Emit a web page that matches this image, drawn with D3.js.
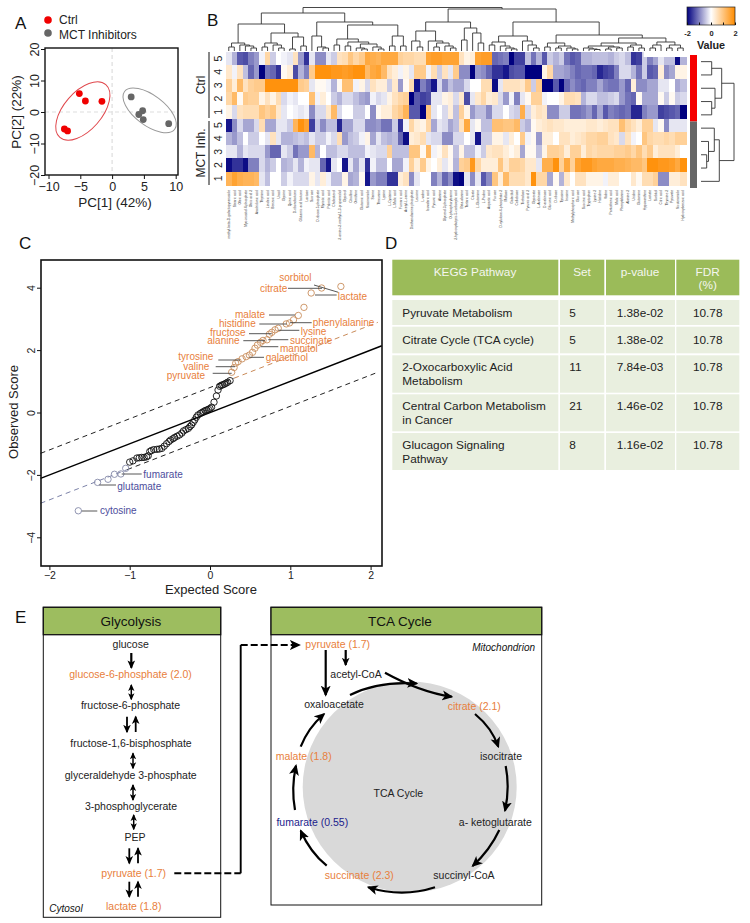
<!DOCTYPE html>
<html>
<head>
<meta charset="utf-8">
<script src="https://cdn.jsdelivr.net/npm/d3@7"></script>
<style>
html, body { margin: 0; padding: 0; background: #fff; }
svg { display: block; }
text { font-family: "Liberation Sans", Arial, sans-serif; }
</style>
</head>
<body>
<script>
// ---- panel A: PCA scores
var ctrlPcX = [-5.15, -4.2, -1.6, -7.5, -7.0];
var ctrlPcY = [5.84, 3.5, 3.4, -5.4, -6.0];
var mctPcX = [3.0, 4.8, 4.2, 4.9, 8.9];
var mctPcY = [4.8, 0.4, -0.8, -2.4, -3.7];

// ---- panel B: heatmap, one array per sample
var rowNames = ["5", "4", "3", "2", "1", "5", "4", "3", "2", "1"];
var ctrl5 = [-.2,-.6,-1.3,-1.4,-1.0,-.8,-.1,.7,-.4,0, -.1,-.2,.5,-.8,-1.6,-.2,-.9,-.9,-.2,-.4,
  .5,.6,1.0,.7,.9,1.5,1.4,1.3,1.5,1.5, 1.5,.8,.7,.7,.6,.6,1.6,1.7,1.7,1.6, 1.6,1.6,
  .5,.2,.3,1.6,1.7,1.7,-1.2,-1.1,-1.0,-2, -1.5,-1.5,-.5,-1.1,-.6,-1.3,-.4,-.6,-.4,-1.1,
  -1.3,-1.2,-.6,-.6,-.5,-.5,-.5,-.6,-.4,-.3, -.5,-1.6,-1.5,-.4,-1,-.7,-.2,-.5,-.5,-1.9, -.6];
var ctrl4 = [.4,-.1,.5,-.5,-1.2,-.8,-2,-1.1,-1.2,-1.6, .1,.3,-1.4,-.6,-1.0,.9,1.9,1.9,1.9,1.8,
  1.8,1.7,1.8,1.9,1.9,1.2,1.5,1.6,1.2,.5, .3,-.1,.2,-.2,.9,.9,-.1,.6,-.4,.5, -.2,.9,
  -.9,-.9,-2,-.8,-.9,-1.2,-1.6,-1.6,-1.8,-1.4, -1.3,-1.3,-2,-2,-2,.2,.7,-.7,-.7,-.8,
  -1.0,-1.2,-1.1,-1.1,-1.2,-1.7,-1.5,-1.4,-1.0,-.3, -.3,-.6,-1.1,-.4,-1.3,-1.2,.3,-.9,-.7,.2, .2];
var ctrl3 = [.8,.3,1.2,.5,.8,.9,.9,1.9,1.9,1.9, 1.9,1.9,1.9,.9,.8,-.2,.1,.1,-.1,-.6,
  .1,1.1,1.1,-.1,.2,-.3,.5,.3,.3,-.4, .4,-.8,.1,.6,-1.8,-1.0,-1.3,-1.8,-.3,-.9, -.5,-.7,
  -.7,-.3,0,0,.6,.6,-1.9,-.2,.5,.5, .5,.4,.9,-.4,.9,-2,-2,-1.3,-2,-1.2,
  -.9,-1.1,-1.2,-1.0,-1.0,-.7,-1.0,-1.1,-1.1,-.8, -1.2,.3,-.9,-.9,-.7,-.7,-.2,-.2,0,-.7, -.5];
var ctrl2 = [.7,1.2,.1,.9,.8,.8,.2,.5,.2,.6, -.3,-.1,-.2,0,0,1.1,-.1,.3,0,-.4,
  -.6,-.3,-.3,-.5,-.7,-.8,-.1,-.3,-.2,.2, .5,.7,.8,-2,-1.3,-1.5,-1.4,-.2,-.2,.2, .3,-.3,
  .4,-1.4,-.2,.4,.7,.3,.4,-.3,-.8,-.1, -1.0,-.2,.1,.8,.8,-.1,0,0,.2,.6,
  .6,.5,-.6,-.3,-.3,-.5,-.5,-.4,-.3,-.8, -1.1,-1.2,.1,-.7,-.7,-.7,.1,-.4,.1,-.4, -.3];
var ctrl1 = [.2,-.3,.5,.6,.6,.6,1.0,.8,1.0,.4, -.2,0,-.1,-.2,-.1,-.9,-.3,-.3,.4,1.2,
  -.3,0,0,-.4,-.4,0,-.9,.1,.3,.3, .7,.9,1.3,-1.3,-1.3,-2,1.0,-.2,0,-.3, .3,-.5,
  .8,.2,-.8,-.5,-.5,-.9,-.3,-.3,0,-.3, -.4,1.4,-.3,.3,.5,.4,-.9,-.9,-.4,-.4,
  -1.1,-1.1,-1.0,-.8,-1.2,-.7,-1.3,-1.0,-1.1,-1.2, -1.1,-1.7,-1.7,-1.0,-.8,-.8,-1.5,-1.4,-1.3,-1.2, -2];
var mct5 = [-1.8,-.9,-.3,-.7,-.7,-.3,.6,-.7,-.7,-.2, -.2,-.4,1.3,1.9,1.6,-1.5,-.4,-.9,-.5,-.5,
  -1.7,-.7,-.7,-.3,-.3,-.9,-.9,-.8,-1.1,-1.1, -.4,-1.6,-.1,.7,.3,.2,.7,-.7,-.2,-.3, -.7,-.5,
  .5,1.5,-.2,.1,-.5,-.5,1.1,1.1,1.0,1.0, 1.2,-.4,-.6,.1,.3,.4,.5,.4,.4,.3,
  .3,.3,.3,.4,.4,.3,.4,.5,.5,1.1, .7,.5,.3,.8,.8,-.2,.1,-.9,-.2,-.2, -.2];
var mct4 = [-.6,-.8,-.5,0,-.4,-.4,0,-.2,.5,-.2, -.6,-.6,-.5,-.4,-.5,-.2,-.4,-.4,-.1,-.3,
  .6,-.8,-.5,-.4,-.1,.2,-.7,-.2,-.5,-.6, -.5,-1.2,-1.9,.3,.4,.6,-.2,-.3,-.3,-.9, -.9,-.3,
  -.3,0,-.2,-1.8,-.4,-.4,.2,.2,-.2,.3, 0,.9,-.1,.1,-.8,.3,.3,0,.5,.5,
  .3,.4,.5,.7,.7,.8,.8,.5,.4,-.3, .5,-.1,0,1.0,.7,.6,.6,.7,.6,.8, .8];
var mct3 = [-.2,-.2,-.6,-.2,-.3,-.3,-.3,-.8,-1.2,-1.2, -.2,-.4,-1.1,-.8,-.8,1.2,-.6,0,-.5,-.5,
  -.3,-.3,-.5,-.5,-.5,-.1,-.2,-.3,-.3,.8, -.5,-.5,-.5,1.0,1.0,.1,1.2,-.1,.1,.5, .1,-.5,
  .2,-.5,-.5,-.1,-.4,.4,.5,.5,.3,.1, .3,-.7,.1,.1,-.5,.2,.8,.8,.7,.3,
  .8,.8,.3,.7,.6,.7,.7,.7,.8,.8, .9,.7,1.0,.6,.9,.3,.5,.5,.5,.3, 0];
var mct2 = [-1.9,-1.6,-1.6,-1.9,-1.0,-1.0,-.3,-.6,-.4,0, -.6,-.5,-.2,-.6,-.1,-.2,-.2,-1.2,-1.8,-.2,
  0,-1.8,-.2,-.7,-.2,-1.6,-.1,-.5,-.5,0, -.7,-.7,-.1,.8,.3,.9,.2,0,.3,-.2, .1,-.6,
  .8,.9,1.8,.7,.3,.3,.3,1.0,.4,.8, .8,.7,.4,.4,-.2,1.4,1.4,1.9,.8,1.5,
  .8,1.6,1.8,1.8,1.6,1.5,1.5,1.5,1.4,1.4, 1.3,1.2,1.2,1.0,1.9,1.9,1.8,1.8,1.7,1.5, 1.9];
var mct1 = [1.3,1.6,1.4,1.3,1.3,1.2,-.2,-.5,0,0, -.4,-.1,-.3,-.3,-.3,.2,-.2,.3,-.1,-.5,
  -.5,.2,-.7,-.6,.1,-1.8,-.8,-1.0,-1.0,-1.6, -1.6,.3,.5,-.9,-.2,0,0,-1,-.6,-1.2, -.9,-1.9,
  -2,-.2,-.9,-.2,-1.3,-.9,1.0,.3,1.2,.6, .6,.6,.4,1.9,.7,.7,-.7,.1,-.6,.4,
  0,.5,.5,.2,.2,.2,-.1,.3,.3,0, 0,.4,.1,.6,.6,.8,-.9,-.9,.3,.3, .5];
var heatRows = [ctrl5, ctrl4, ctrl3, ctrl2, ctrl1, mct5, mct4, mct3, mct2, mct1];

var metabolites = ["methyl-beta-D-galactopyranoside","Stearic acid","Oleic acid","Myo-inositol 4-phosphate","Oleic acid 2","Arachidonic acid",
  "Thymine","Linoleic acid","Benzoic acid","Uracil","Glycine","Quinic acid","D-ribonolactone","Glutamic acid lactone","Lactose","Sucrose",
  "D-ribose 5-phosphate","Myristic acid","Palmitic acid","Cholesterol","2-amino-2-methyl-1,3-propanediol","Glycerol","Citrulline","Ornithine",
  "Glutamic acid","Niacinamide","Serine","Threonine","Lysine","L-Cysteine","L-Malic acid","Fumaric acid","Acetyl-L-serine",
  "Diethanolamine phosphate","Leucine","L-valine","Isovaleric acid","Pyruvic acid","Alanine","Glycerol 3-phosphate","O-phosphorylserine",
  "2-hydroxybutyric-5-carboxylic acid","Beta-alanine","Tartaric acid","Citrate","L-Glutamine","L-Proline","Aspartic acid","Fucose",
  "D-xylulose-6-phosphate 2","Maltose","Galactitol","Cellobiose","Trehalose","Pyruvic acid 2","Glycerate","L-Arabinose","D-arabinose",
  "Gluconic acid","D-ribose","Tyrosine","Inosine","Methylphosphoric acid","Glucose","Succinic acid","Tryptophan","Lysine 2","Histidine",
  "Valine","Pantothenic acid","Malic acid","Phenylalanine","Alanine 2","Uridine","Glutamine","Hypoxanthine","Lactate","Sorbitol",
  "Citric acid","Thymine 2","Pyruvate","Nicotinamide","Hydroxybenzoic acid"];

// dendrograms: [height, left, right], 0 is a leaf
var colTree = [43.5,
  [38,
    [27,
      [8, [4,0,0], [6,0,[5,0,[3,0,0]]]],
      [18, [8,[4,0,0],[6,0,[3,0,0]]], [14,[2,0,0],[5,0,0]]]],
    [29,
      [15, 0, [4,0,[3,0,0]]],
      [26,
        [12, [6,0,0], [9,[5,0,0],[7,[3,0,[2,0,0]],[4,0,[2,0,0]]]]],
        [15, [5,0,0], [5,0,0]]]]],
  [42,
    [29,
      [20, [10,0,[4,0,0]], [10,0,[8,[4,0,0],[5,0,[3,0,0]]]]],
      [23, [11,0,0], [18,0,[8,0,0]]]],
    [29,
      [15, [9,[6,0,0],[5,0,[3,0,[2,0,0]]]], [10,0,[6,0,[3,0,0]]]],
      [16,
        [8, [4,0,0], [5,[3,0,0],[3,0,[2,0,0]]]],
        [13,
          [8,
            [5, [3,0,[2,0,[1.5,0,0]]], [4,[2,0,0],[3,0,0]]],
            [6, [4,0,0], [3,0,0]]],
          [9, [6,[3,0,0],0], [6,[3,0,0],[3,0,0]]]]]]]];
var rowTree = [33,
  [20.7, [10.7,0,0], [14,0,[10.7,0,0]]],
  [18.3, [13.3,0,[7.5,0,[5.7,0,0]]], 0]];

// ---- panel C: SAM plot
var samExpected = [-1.64,-1.40,-1.27,-1.19,-1.11,-1.05,
  -1.0,-.96,-.91,-.88,-.85,-.82,-.79,-.77,-.75,-.73,-.70,-.66,-.63,-.60,-.57,-.54,-.51,-.49,-.46,-.44,-.41,-.38,-.35,-.33,-.30,-.27,-.25,-.23,-.21,-.19,-.17,-.15,-.12,-.10,-.08,-.06,-.04,-.02,0,.02,.05,.08,.10,.12,.14,.16,.18,.20,.22,.25,
  .27,.30,.32,.35,.40,.45,.49,.53,.56,.59,.63,.66,.71,.74,.77,.81,.85,.95,.99,1.04,1.10,1.17,1.26,1.39,1.63];
var samObserved = [-3.15,-2.24,-2.14,-1.98,-1.97,-1.79,
  -1.59,-1.55,-1.46,-1.45,-1.44,-1.44,-1.42,-1.39,-1.25,-1.22,-1.19,-1.18,-1.17,-1.15,-1.08,-1.0,-.93,-.88,-.84,-.80,-.76,-.72,-.66,-.59,-.55,-.51,-.45,-.40,-.32,-.24,-.15,-.08,-.03,0,.03,.06,.08,.10,.13,.17,.33,.53,.72,.84,.87,.89,.91,.94,.97,1.02,
  1.29,1.44,1.58,1.63,1.72,1.79,1.84,1.93,2.06,2.16,2.25,2.31,2.33,2.51,2.57,2.65,2.70,2.84,2.87,2.97,3.11,3.37,3.83,3.99,4.04];
var samDelta = 0.8;

// name, left of text, centre of text, leader start, leader end, leader y
var upLabels = [
  ["sorbitol",279.3,277,314,338.3,285,292.3],
  ["citrate",260,288.7,288,322,288.3,288.3],
  ["lactate",337.7,296.3,315,336.7,295,295],
  ["malate",235,314.7,269,295,315,315],
  ["histidine",219,323.7,259.3,286.7,324,324],
  ["phenylalanine",312.7,322,290,311.7,322.7,322.7],
  ["fructose",210,332.3,249,271.7,333.7,333.7],
  ["lysine",300.7,331,278.3,299.3,330.3,330.3],
  ["alanine",207.3,340.7,243.3,265,340.7,340.7],
  ["succinate",290,340.3,268.3,288.3,339.7,339.7],
  ["mannitol",280,348.7,260.7,278.3,346.7,346.7],
  ["galactinol",265.7,357.7,249.3,264,357.3,357.3],
  ["tyrosine",178.3,356.7,218.3,240,360,360],
  ["valine",183.3,366.3,215.7,235,366.7,366.7],
  ["pyruvate",166.7,375.3,212.7,231.7,373.3,373.3]];
var downLabels = [
  ["fumarate",143.3,474.7,121.7,141.7,474,474],
  ["glutamate",117.3,486.3,99.3,116,485,485],
  ["cytosine",100,510.7,81.7,97.3,511,511]];

// ---- panel D: table
var tableHeader = [["KEGG Pathway"], ["Set"], ["p-value"], ["FDR", "(%)"]];
var pathwayNames = [["Pyruvate Metabolism"], ["Citrate Cycle (TCA cycle)"], ["2-Oxocarboxylic Acid", "Metabolism"],
  ["Central Carbon Metabolism", "in Cancer"], ["Glucagon Signaling", "Pathway"]];
var pathwaySet = ["5", "5", "11", "21", "8"];
var pathwayP = ["1.38e-02", "1.38e-02", "7.84e-03", "1.46e-02", "1.16e-02"];
var pathwayFdr = ["10.78", "10.78", "10.78", "10.78", "10.78"];

// ---- panel E: pathways
var orangeText = "#e8803c", blueText = "#4d4d9c", navyText = "#1c1c8c";
var glycolysisSteps = [
  ["glucose",130.7,644.3,"#222"],
  ["glucose-6-phosphate (2.0)",130.5,674.3,orangeText],
  ["fructose-6-phosphate",130.5,705.7,"#222"],
  ["fructose-1,6-bisphosphate",131,743.3,"#222"],
  ["glyceraldehyde 3-phosphate",130.7,775.3,"#222"],
  ["3-phosphoglycerate",131,806,"#222"],
  ["PEP",135,837,"#222"],
  ["pyruvate (1.7)",133.7,873.3,orangeText],
  ["lactate (1.8)",133.7,906.7,orangeText]];
var tcaSteps = [
  ["pyruvate (1.7)",337.7,644.3,orangeText],
  ["acetyl-CoA",356,674,"#222"],
  ["oxaloacetate",334,704.3,"#222"],
  ["citrate (2.1)",474.3,706,orangeText],
  ["isocitrate",501,756.3,"#222"],
  ["a- ketoglutarate",495.3,822.3,"#222"],
  ["succinyl-CoA",464,875.7,"#222"],
  ["succinate (2.3)",359.3,875.7,orangeText],
  ["fumarate (0.55)",312.3,822.3,navyText],
  ["malate (1.8)",303.7,756.7,orangeText],
  ["TCA Cycle",398.3,793.3,"#222"]];

var width = 750, height = 923;
var svg = d3.select("body").append("svg")
    .attr("width", width)
    .attr("height", height)
    .attr("viewBox", "0 0 " + width + " " + height);

var defs = svg.append("defs");
function headMarker(id, size) {
    defs.append("marker")
        .attr("id", id)
        .attr("viewBox", "0 0 10 10")
        .attr("refX", 8.5)
        .attr("refY", 5)
        .attr("markerWidth", size)
        .attr("markerHeight", size)
        .attr("markerUnits", "userSpaceOnUse")
        .attr("orient", "auto-start-reverse")
        .append("path")
        .attr("d", "M0,0.5 L10,5 L0,9.5 L2.5,5 z")
        .attr("fill", "#000");
}
headMarker("head", 11);
headMarker("headMid", 8.5);
headMarker("headSmall", 7);

defs.append("filter").attr("id", "soft")
    .append("feGaussianBlur").attr("stdDeviation", 0.45);

function panelLetter(t, x, y) {
    svg.append("text").attr("x", x).attr("y", y).attr("font-size", 17).attr("fill", "#111").text(t);
}
panelLetter("A", 15, 29);
panelLetter("B", 207, 26);
panelLetter("C", 19, 249);
panelLetter("D", 385, 249);
panelLetter("E", 15, 623);

function styleAxis(g, size) {
    g.select(".domain").remove();
    g.selectAll("text")
        .style("font-family", '"Liberation Sans", Arial, sans-serif')
        .style("font-size", size + "px")
        .attr("fill", "#222");
    g.selectAll("line").attr("stroke", "#111").attr("stroke-width", 1);
}

function rotateTicks(g, offset) {
    g.selectAll("text")
        .attr("transform", "rotate(-90)")
        .attr("x", 0)
        .attr("y", -offset)
        .attr("dy", 0)
        .style("text-anchor", "middle");
}

// ---- A
var ax = d3.scaleLinear().domain([-10, 10]).range([48.5, 175.7]);
var ay = d3.scaleLinear().domain([-20, 20]).range([175, 49]);
var pa = svg.append("g");

pa.append("line").attr("x1", ax(0)).attr("x2", ax(0)).attr("y1", 48).attr("y2", 175)
    .attr("stroke", "#ddd").attr("stroke-width", 1.2).attr("stroke-dasharray", "4,3");
pa.append("line").attr("x1", 45).attr("x2", 178).attr("y1", ay(0)).attr("y2", ay(0))
    .attr("stroke", "#ddd").attr("stroke-width", 1.2).attr("stroke-dasharray", "4,3");

pa.append("ellipse")
    .attr("rx", 35).attr("ry", 19)
    .attr("transform", "translate(" + ax(-4.6) + "," + ay(0.3) + ") rotate(-49)")
    .attr("fill", "none").attr("stroke", "#e0474c").attr("stroke-width", 1);
pa.append("ellipse")
    .attr("rx", 31.4).attr("ry", 15)
    .attr("transform", "translate(" + ax(5.9) + "," + ay(0.5) + ") rotate(37)")
    .attr("fill", "none").attr("stroke", "#999").attr("stroke-width", 1);

pa.selectAll("circle.ctrl").data(ctrlPcX).enter().append("circle")
    .attr("class", "ctrl")
    .attr("cx", function (d) { return ax(d); })
    .attr("cy", function (d, i) { return ay(ctrlPcY[i]); })
    .attr("r", 3.4)
    .attr("fill", "#f00000");
pa.selectAll("circle.mct").data(mctPcX).enter().append("circle")
    .attr("class", "mct")
    .attr("cx", function (d) { return ax(d); })
    .attr("cy", function (d, i) { return ay(mctPcY[i]); })
    .attr("r", 3.4)
    .attr("fill", "#666");

pa.append("rect").attr("x", 45).attr("y", 48).attr("width", 133).attr("height", 127)
    .attr("fill", "none").attr("stroke", "#111").attr("stroke-width", 1.4);

pa.append("g").attr("transform", "translate(0,175)")
    .call(d3.axisBottom(ax).tickValues([-10, -5, 0, 5, 10]).tickSize(4).tickPadding(3))
    .call(styleAxis, 12.5);
pa.append("g").attr("transform", "translate(45,0)")
    .call(d3.axisLeft(ay).tickValues([-20, -10, 0, 10, 20]).tickSize(4))
    .call(styleAxis, 12.5)
    .call(rotateTicks, 6);

pa.append("text").attr("x", 115).attr("y", 207).attr("text-anchor", "middle").attr("font-size", 13.5).attr("fill", "#222").text("PC[1] (42%)");
pa.append("text").attr("transform", "translate(21,112) rotate(-90)").attr("text-anchor", "middle").attr("font-size", 13.5).attr("fill", "#222").text("PC[2] (22%)");

pa.append("circle").attr("cx", 48).attr("cy", 20).attr("r", 3.8).attr("fill", "#f00000");
pa.append("circle").attr("cx", 48).attr("cy", 33).attr("r", 3.8).attr("fill", "#666");
pa.append("text").attr("x", 59).attr("y", 24).attr("font-size", 12).attr("fill", "#222").text("Ctrl");
pa.append("text").attr("x", 59).attr("y", 39).attr("font-size", 12).attr("fill", "#222").text("MCT Inhibitors");

// ---- B
var hx = d3.scaleBand().domain(d3.range(metabolites.length)).range([226, 686]);
var hy = d3.scaleBand().domain(d3.range(heatRows.length)).range([52, 185]);
var sideY = d3.scaleBand().domain(d3.range(heatRows.length)).range([55, 188]);
var heatColor = d3.scaleLinear().domain([-2, 0, 2]).range(["#00007f", "#ffffff", "#ff8c00"]);
var pb = svg.append("g");

var heatCells = [];
heatRows.forEach(function (row, r) {
    row.forEach(function (v, c) {
        heatCells.push({r: r, c: c, v: v});
    });
});
pb.append("g").attr("shape-rendering", "crispEdges").attr("filter", "url(#soft)")
    .selectAll("rect").data(heatCells).enter().append("rect")
    .attr("x", function (d) { return hx(d.c); })
    .attr("y", function (d) { return hy(d.r); })
    .attr("width", hx.bandwidth() + 0.5)
    .attr("height", hy.bandwidth() + 0.5)
    .attr("fill", function (d) { return heatColor(d.v); });

// a strip of the first row is masked on the right of the figure
pb.append("rect").attr("x", hx(75) + 2).attr("y", 50).attr("width", 44).attr("height", 7).attr("fill", "#fff");

function dendrogram(tree, posScale, heightScale, vertical, g) {
    var root = d3.hierarchy(tree, function (d) { return d === 0 ? null : d.slice(1); });
    var leafPos = 0;
    root.eachAfter(function (n) {
        if (!n.children) {
            n.pos = leafPos++;
            n.h = 0;
        } else {
            n.pos = (n.children[0].pos + n.children[1].pos) / 2;
            n.h = n.data[0];
        }
    });
    var bw = posScale.bandwidth();
    function p(n) { return posScale(0) + (posScale(1) - posScale(0)) * n.pos + bw / 2; }
    g.selectAll("path").data(root.descendants().filter(function (n) { return n.children; }))
        .enter().append("path")
        .attr("fill", "none")
        .attr("stroke", "#333")
        .attr("stroke-width", 0.9)
        .attr("d", function (n) {
            var a = n.children[0], b = n.children[1], pts;
            pts = [[p(a), heightScale(a.h)], [p(a), heightScale(n.h)], [p(b), heightScale(n.h)], [p(b), heightScale(b.h)]];
            if (!vertical) pts = pts.map(function (q) { return [q[1], q[0]]; });
            return d3.line()(pts);
        });
}
dendrogram(colTree, hx, d3.scaleLinear().domain([0, 44]).range([51, 7]), true, pb.append("g"));
dendrogram(rowTree, sideY, d3.scaleLinear().domain([0, 33]).range([701, 734]), false, pb.append("g"));

// group colour bar
var groupBars = [[0, 5, "#f50000"], [5, 10, "#666"]];
pb.selectAll("rect.side").data(groupBars).enter().append("rect")
    .attr("class", "side")
    .attr("x", 690)
    .attr("width", 7)
    .attr("y", function (d) { return sideY(d[0]); })
    .attr("height", function (d) { return sideY.bandwidth() * (d[1] - d[0]); })
    .attr("fill", function (d) { return d[2]; });

// row labels
pb.selectAll("text.rowname").data(rowNames).enter().append("text")
    .attr("class", "rowname")
    .attr("transform", function (d, i) { return "translate(222," + (hy(i) + hy.bandwidth() / 2) + ") rotate(-90)"; })
    .attr("text-anchor", "middle")
    .attr("font-size", 10.5)
    .attr("fill", "#222")
    .text(function (d) { return d; });
pb.append("line").attr("x1", 209).attr("x2", 209).attr("y1", 52).attr("y2", 118).attr("stroke", "#111").attr("stroke-width", 1);
pb.append("line").attr("x1", 209).attr("x2", 209).attr("y1", 121).attr("y2", 185).attr("stroke", "#111").attr("stroke-width", 1);
pb.append("text").attr("transform", "translate(205,85) rotate(-90)").attr("text-anchor", "middle").attr("font-size", 12).attr("fill", "#222").text("Ctrl");
pb.append("text").attr("transform", "translate(205,153) rotate(-90)").attr("text-anchor", "middle").attr("font-size", 12).attr("fill", "#222").text("MCT Inh.");

// metabolite labels
pb.selectAll("text.metab").data(metabolites).enter().append("text")
    .attr("class", "metab")
    .attr("transform", function (d, i) { return "translate(" + (hx(i) + hx.bandwidth() / 2 + 1.2) + ",190) rotate(-90)"; })
    .attr("text-anchor", "end")
    .attr("font-size", 3.3)
    .attr("fill", "#333")
    .text(function (d) { return d; });

// colour key
var keyX = d3.scaleLinear().domain([-2, 2]).range([687, 735]);
var keyGrad = defs.append("linearGradient").attr("id", "keyGrad");
[-2, 0, 2].forEach(function (v) {
    keyGrad.append("stop").attr("offset", (v + 2) / 4).attr("stop-color", heatColor(v));
});
pb.append("rect").attr("x", 687).attr("y", 7).attr("width", 48).attr("height", 18)
    .attr("fill", "url(#keyGrad)").attr("stroke", "#222").attr("stroke-width", 0.7);
pb.append("g").attr("transform", "translate(0,25)")
    .call(d3.axisBottom(keyX).tickValues([-2, -1, 0, 1, 2]).tickSize(-2.5).tickPadding(6)
        .tickFormat(function (d) { return d % 2 === 0 ? d3.format("d")(d).replace("\u2212", "-") : ""; }))
    .call(styleAxis, 7.5)
    .call(function (g) { g.selectAll("text").attr("font-weight", "bold"); });
pb.append("text").attr("x", 711).attr("y", 49).attr("text-anchor", "middle").attr("font-size", 10.8).attr("font-weight", "bold").attr("fill", "#222").text("Value");

// ---- C
var cx = d3.scaleLinear().domain([-2, 2]).range([49.4, 370.6]);
var cy = d3.scaleLinear().domain([-4, 4]).range([537.3, 287.7]);
var pc = svg.append("g");

function refLine(from, to, delta, color, dash, w) {
    pc.append("line")
        .attr("x1", cx(from)).attr("y1", cy(from + delta))
        .attr("x2", cx(to)).attr("y2", cy(to + delta))
        .attr("stroke", color).attr("stroke-width", w)
        .attr("stroke-dasharray", dash);
}
refLine(-2.11, 2.14, 0, "#000", null, 1.4);
refLine(-2.11, 0.3, samDelta, "#222", "5,4", 1);
refLine(0.3, 2.09, samDelta, "#c98a58", "5,4", 1);
refLine(-2.11, -1.03, -samDelta, "#7c82a8", "5,4", 1);
refLine(-1.03, 2.09, -samDelta, "#222", "5,4", 1);

function samColor(i) {
    var diff = samObserved[i] - samExpected[i];
    if (diff > samDelta) return "#c98f5e";
    if (diff < -0.7) return "#8489a8";
    return "#111";
}
pc.selectAll("circle").data(samExpected).enter().append("circle")
    .attr("cx", function (d) { return cx(d); })
    .attr("cy", function (d, i) { return cy(samObserved[i]); })
    .attr("r", 3.2)
    .attr("fill", "none")
    .attr("stroke", function (d, i) { return samColor(i); })
    .attr("stroke-width", 0.9);

function samLabels(rows, color) {
    var g = pc.append("g");
    g.selectAll("line").data(rows).enter().append("line")
        .attr("x1", function (d) { return d[3]; })
        .attr("x2", function (d) { return d[4]; })
        .attr("y1", function (d) { return d[5]; })
        .attr("y2", function (d) { return d[6]; })
        .attr("stroke", "#444")
        .attr("stroke-width", 0.9);
    g.selectAll("text").data(rows).enter().append("text")
        .attr("x", function (d) { return d[1]; })
        .attr("y", function (d) { return d[2]; })
        .attr("dy", "0.35em")
        .attr("font-size", 10)
        .attr("fill", color)
        .text(function (d) { return d[0]; });
}
samLabels(upLabels, orangeText);
samLabels(downLabels, blueText);

pc.append("rect").attr("x", 41).attr("y", 260).attr("width", 341).attr("height", 306)
    .attr("fill", "none").attr("stroke", "#111").attr("stroke-width", 1.6);
pc.append("g").attr("transform", "translate(0,566)")
    .call(d3.axisBottom(cx).tickValues([-2, -1, 0, 1, 2]).tickSize(4).tickPadding(2).tickFormat(d3.format("d")))
    .call(styleAxis, 10.5);
pc.append("g").attr("transform", "translate(41,0)")
    .call(d3.axisLeft(cy).tickValues([-4, -2, 0, 2, 4]).tickSize(4).tickFormat(d3.format("d")))
    .call(styleAxis, 10.5)
    .call(rotateTicks, 6);
pc.append("text").attr("x", 211).attr("y", 594).attr("text-anchor", "middle").attr("font-size", 13).attr("fill", "#222").text("Expected Score");
pc.append("text").attr("transform", "translate(18,412) rotate(-90)").attr("text-anchor", "middle").attr("font-size", 13).attr("fill", "#222").text("Observed Score");

// ---- D
var colEdges = [[392.3, 558.3], [560, 604.3], [606, 675], [676.3, 739.3]];
var rowEdges = [[259.7, 295.3], [300, 325], [326.7, 353.3], [355.3, 392.7], [394.3, 431.3], [433, 470]];
var bodyColumns = [pathwayNames, pathwaySet, pathwayP, pathwayFdr];
var pd = svg.append("g");

var tableCells = [];
rowEdges.forEach(function (re, r) {
    colEdges.forEach(function (ce, c) {
        var lines = r === 0 ? tableHeader[c] : bodyColumns[c][r - 1];
        if (typeof lines === "string") lines = [lines];
        tableCells.push({r: r, c: c, x0: ce[0], x1: ce[1], y0: re[0], y1: re[1], lines: lines});
    });
});
pd.selectAll("rect").data(tableCells).enter().append("rect")
    .attr("x", function (d) { return d.x0; })
    .attr("y", function (d) { return d.y0; })
    .attr("width", function (d) { return d.x1 - d.x0; })
    .attr("height", function (d) { return d.y1 - d.y0; })
    .attr("fill", function (d) { return d.r === 0 ? "#9bbb59" : "#e9efdf"; });

var bodyAlignX = [402.3, 569.3, 640, 707.7];
var headAlignX = [475, 582, 640, 707.7];
pd.selectAll("text").data(tableCells).enter().append("text")
    .attr("font-size", 11.8)
    .attr("fill", function (d) { return d.r === 0 ? "#f4f6ee" : "#222"; })
    .attr("text-anchor", function (d) { return d.r > 0 && d.c < 2 ? "start" : "middle"; })
    .attr("x", function (d) { return d.r === 0 ? headAlignX[d.c] : bodyAlignX[d.c]; })
    .attr("y", function (d) { return d.y0 + (d.r === 0 ? 12 : (d.r < 3 ? (d.y1 - d.y0) / 2 : 12)); })
    .each(function (d) {
        var t = d3.select(this), x = t.attr("x");
        d.lines.forEach(function (line, i) {
            t.append("tspan").attr("x", x).attr("dy", i === 0 ? "0.35em" : "13.4px").text(line);
        });
    });

// ---- E
var pe = svg.append("g");
var boxes = [
    {x0: 43.3, x1: 220.7, y1: 917.3, title: "Glycolysis", titleX: 131},
    {x0: 271, x1: 541.7, y1: 905, title: "TCA Cycle", titleX: 400}];

pe.append("ellipse").attr("cx", 409.7).attr("cy", 787).attr("rx", 107).attr("ry", 105.5).attr("fill", "#d9d9d9");

boxes.forEach(function (b) {
    pe.append("rect").attr("x", b.x0).attr("y", 607.3).attr("width", b.x1 - b.x0).attr("height", b.y1 - 607.3)
        .attr("fill", "none").attr("stroke", "#111").attr("stroke-width", 1);
    pe.append("rect").attr("x", b.x0).attr("y", 607.3).attr("width", b.x1 - b.x0).attr("height", 27.4)
        .attr("fill", "#9dbd5f").attr("stroke", "#111").attr("stroke-width", 1.3);
    pe.append("text").attr("x", b.titleX).attr("y", 621.7).attr("dy", "0.35em")
        .attr("text-anchor", "middle").attr("font-size", 13.5).attr("fill", "#111").text(b.title);
});

function stepLabels(rows) {
    pe.append("g").selectAll("text").data(rows).enter().append("text")
        .attr("x", function (d) { return d[1]; })
        .attr("y", function (d) { return d[2]; })
        .attr("dy", "0.35em")
        .attr("text-anchor", "middle")
        .attr("font-size", 10.5)
        .attr("fill", function (d) { return d[3]; })
        .text(function (d) { return d[0]; });
}
stepLabels(glycolysisSteps);
stepLabels(tcaSteps);

pe.append("text").attr("x", 49.3).attr("y", 908.7).attr("dy", "0.35em").attr("font-size", 10).attr("font-style", "italic").attr("fill", "#111").text("Cytosol");
pe.append("text").attr("x", 535).attr("y", 647.3).attr("dy", "0.35em").attr("text-anchor", "end").attr("font-size", 10).attr("font-style", "italic").attr("fill", "#111").text("Mitochondrion");

function arrow(d) {
    return pe.append("path").attr("d", d).attr("fill", "none").attr("stroke", "#000").attr("stroke-width", 2.2)
        .attr("marker-end", "url(#head)");
}
function vArrow(x, y0, y1) { return "M" + x + "," + y0 + "L" + x + "," + y1; }
function doubleArrow(x, y0, y1) {
    pe.append("path").attr("d", vArrow(x, y0, y1)).attr("fill", "none").attr("stroke", "#000").attr("stroke-width", 1.5)
        .attr("marker-start", "url(#headSmall)").attr("marker-end", "url(#headSmall)");
}
function pairArrow(x0, x1, y0, y1) {
    pe.append("path").attr("d", vArrow(x0, y0, y1)).attr("fill", "none").attr("stroke", "#000").attr("stroke-width", 1.8).attr("marker-end", "url(#headMid)");
    pe.append("path").attr("d", vArrow(x1, y1, y0)).attr("fill", "none").attr("stroke", "#000").attr("stroke-width", 1.8).attr("marker-end", "url(#headMid)");
}

// glycolysis arrows
arrow(vArrow(131.3, 653, 667.7)).attr("marker-end", "url(#headMid)");
doubleArrow(131.3, 685, 699.3);
pairArrow(127, 135.7, 716.7, 732);
doubleArrow(133, 753.3, 768.3);
doubleArrow(133, 785, 800);
doubleArrow(133.7, 815, 829.3);
pairArrow(129.3, 138, 848.3, 863.3);
pairArrow(129.3, 138, 881.7, 896.7);

// pyruvate link from the cytosol into the mitochondrion
pe.append("path").attr("d", "M174.3,873.3L240.7,873.3").attr("fill", "none").attr("stroke", "#000").attr("stroke-width", 1.9).attr("stroke-dasharray", "7,3");
pe.append("path").attr("d", "M240.7,873.3L240.7,645").attr("fill", "none").attr("stroke", "#000").attr("stroke-width", 1.9);
arrow("M240.7,645L299.3,645").attr("stroke-width", 1.9).attr("stroke-dasharray", "7,3");

// TCA arrows
arrow(vArrow(325.7, 650, 695));
arrow(vArrow(345.7, 650, 665)).attr("marker-end", "url(#headMid)");
arrow("M350,695Q378,681 416.7,683.5");
arrow("M385,672.7Q420,692 451.7,696.7");
arrow("M475,714Q492,728 498.3,746.7");
arrow("M505.7,766Q510,788 505,810.7");
arrow("M499.3,830Q490,850 472.7,866");
arrow("M435,887.3Q402,898 368.3,887.3");
arrow("M326.7,865.7Q310,852 300.7,830.7");
arrow("M295,810Q291,788 296,765.7");
arrow("M300.7,746.7Q308,728 324,714");
</script>
</body>
</html>
